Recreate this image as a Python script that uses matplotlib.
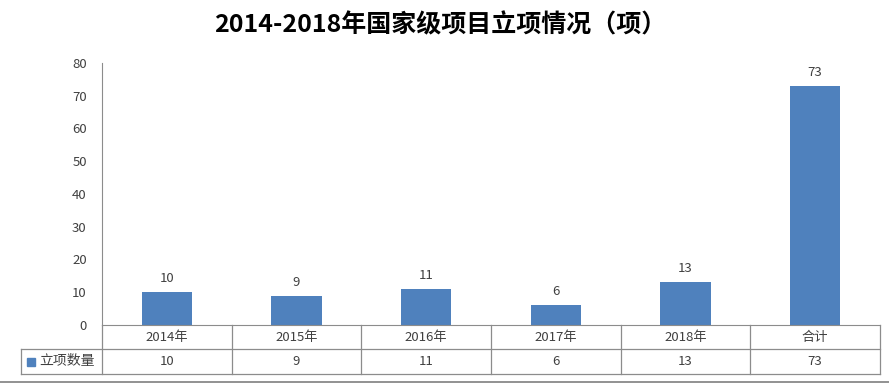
import matplotlib
matplotlib.use("Agg")
import matplotlib.pyplot as plt
from matplotlib.lines import Line2D
from matplotlib.patches import Rectangle

plt.rcParams['font.family'] = ['Noto Sans CJK SC', 'DejaVu Sans']

categories = ["2014年", "2015年", "2016年", "2017年", "2018年", "合计"]
values = [10, 9, 11, 6, 13, 73]
series_name = "立项数量"
title = "2014-2018年国家级项目立项情况（项）"
yticks = [0, 10, 20, 30, 40, 50, 60, 70, 80]

W, H = 889, 383
fig = plt.figure(figsize=(W / 100, H / 100), dpi=100)
fig.patch.set_facecolor("white")

left, right, top, bottom = 102, 880, 63, 325
ax = fig.add_axes([left / W, 1 - bottom / H, (right - left) / W, (bottom - top) / H])

bar_color = "#4F81BD"
text_color = "#404040"
line_color = "#8C8C8C"

x = list(range(len(categories)))
ax.bar(x, values, width=0.39, color=bar_color, zorder=2)
for xi, v in zip(x, values):
    ax.annotate(str(v), (xi, v), xytext=(0, 5), textcoords="offset points",
                ha="center", va="bottom", fontsize=9.5, color=text_color)

ax.set_xlim(-0.5, len(categories) - 0.5)
ax.set_ylim(0, 80)
ax.set_yticks(yticks)
ax.tick_params(axis="y", length=0, labelsize=9.5, labelcolor=text_color, pad=11)
ax.set_xticks([])
for s in ["top", "right"]:
    ax.spines[s].set_visible(False)
ax.spines["left"].set_color(line_color)
ax.spines["bottom"].set_color(line_color)

fig.text(0.495, 1 - 25 / H, title, ha="center", va="center",
         fontsize=18, fontweight="bold", color="black")

# data table below the axis (pixel-based)
unit = (right - left) / len(categories)
row1_top, row1_bot, row2_bot = 325, 349, 374
leg_left = 21

def fy(p):
    return 1 - p / H

def fx(p):
    return p / W

def hline(xa, xb, yp, color=line_color, lw=0.9):
    fig.add_artist(Line2D([fx(xa), fx(xb)], [fy(yp), fy(yp)], color=color, lw=lw))

def vline(xp, ya, yb, color=line_color, lw=0.9):
    fig.add_artist(Line2D([fx(xp), fx(xp)], [fy(ya), fy(yb)], color=color, lw=lw))

hline(leg_left, right, row1_bot)
hline(leg_left, right, row2_bot)
for i in range(len(categories) + 1):
    vline(left + i * unit, row1_top, row2_bot)
vline(leg_left, row1_bot, row2_bot)

for i, (c, v) in enumerate(zip(categories, values)):
    cx = left + (i + 0.5) * unit
    fig.text(fx(cx), fy((row1_top + row1_bot) / 2), c, ha="center", va="center",
             fontsize=9.5, color=text_color)
    fig.text(fx(cx), fy((row1_bot + row2_bot) / 2), str(v), ha="center", va="center",
             fontsize=9.5, color=text_color)

# legend key and series name
fig.add_artist(Rectangle((fx(27), fy(366)), fx(8), 8 / H, color=bar_color))
fig.text(fx(39), fy((row1_bot + row2_bot) / 2), series_name, ha="left", va="center",
         fontsize=10, color=text_color)

# bottom border line
hline(0, W, 381.5, color="#7F7F7F", lw=1.2)

fig.savefig("out.png", dpi=100, facecolor="white")
